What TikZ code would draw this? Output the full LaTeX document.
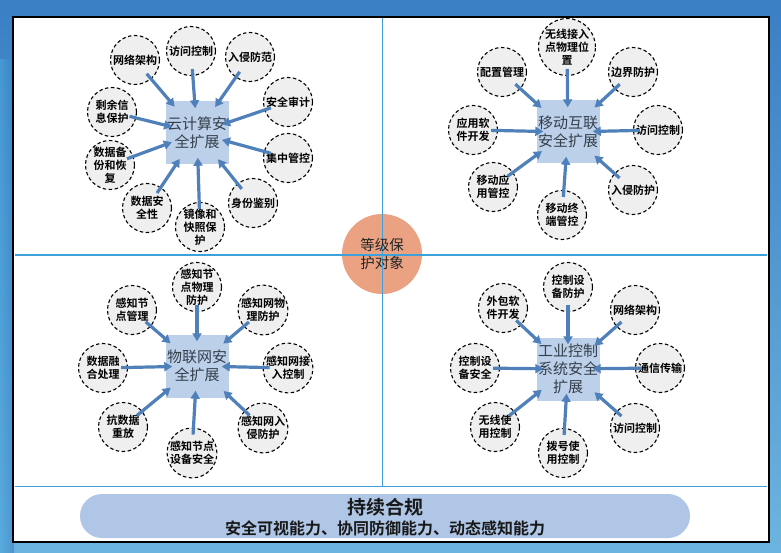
\documentclass[tikz,border=0pt]{standalone}
\usepackage{fontspec}
\setmainfont{Noto Sans CJK SC}[BoldFont={Noto Sans CJK SC Bold}]
\usetikzlibrary{arrows.meta}
\definecolor{bgtop}{HTML}{3A7FC4}
\definecolor{bgbot}{HTML}{6CB4E0}
\definecolor{bgleft}{HTML}{4BA6DC}
\definecolor{cgray}{HTML}{EFEFEF}
\definecolor{hubblue}{HTML}{BCD0EA}
\definecolor{hubtext}{HTML}{353F4A}
\definecolor{arrblue}{HTML}{4F80BA}
\definecolor{gridblue}{HTML}{3DA0D8}
\definecolor{salmon}{HTML}{EBA283}
\definecolor{bannerblue}{HTML}{AFC6E6}
\tikzset{
  sat/.style={circle, draw=black, dash pattern=on 3.5pt off 2.5pt, line width=1.1pt,
    fill=cgray, minimum size=49pt, inner sep=0pt, align=center,
    font=\bfseries\fontsize{11}{13}\selectfont},
  hub/.style={rectangle, fill=hubblue, minimum size=63pt, inner sep=0pt, align=center,
    text=hubtext, font=\fontsize{15}{18}\selectfont},
  arr/.style={draw=arrblue, line width=3.2pt, -{Triangle[length=8pt,width=9pt]},
    shorten <=-7pt, shorten >=-7pt},
  grid/.style={draw=gridblue, line width=1pt}
}
\begin{document}
\begin{tikzpicture}[x=1pt,y=-1pt]
\useasboundingbox (0,0) rectangle (781,553);
% background
\shade[top color=bgtop, bottom color=bgbot] (0,0) rectangle (781,553);
\shade[left color=bgleft, right color=bgtop, opacity=0.6] (0,60) rectangle (14,553);
% panel
\node[draw=black, line width=2.6pt, fill=white, minimum width=756pt, minimum height=525pt,
  inner sep=0pt] (panel) at (391,279.5) {};
% centre circle
\node[circle, fill=salmon, minimum size=80pt, inner sep=0pt] (core) at (382,254) {};
% grid lines
\coordinate (vt) at (382,18);
\coordinate (vb) at (382,486);
\coordinate (hl) at (15,255);
\coordinate (hr) at (767,255);
\coordinate (bl) at (15,486);
\coordinate (br) at (767,486);
\draw[grid] (vt) -- (vb);
\draw[grid] (hl) -- (hr);
\draw[grid] (bl) -- (br);
\node[align=center, font=\fontsize{14.5}{18}\selectfont, text=black!85] (coretext) at (382,254) {等级保\\护对象};

% ===== cloud =====
\node[hub] (cloud) at (197,133) {云计算安\\全扩展};
\node[sat] (c1) at (135,60) {网络架构};
\node[sat] (c2) at (191,51) {访问控制};
\node[sat] (c3) at (250,57) {入侵防范};
\node[sat] (c4) at (288,102) {安全审计};
\node[sat] (c5) at (288,158) {集中管控};
\node[sat] (c6) at (253,203) {身份鉴别};
\node[sat] (c7) at (200,227) {镜像和\\快照保\\护};
\node[sat] (c8) at (147,208) {数据安\\全性};
\node[sat] (c9) at (110,165) {数据备\\份和恢\\复};
\node[sat] (c10) at (112,112) {剩余信\\息保护};
\foreach \i in {1,...,10} \draw[arr] (c\i) -- (cloud);

% ===== mobile =====
\node[hub] (mob) at (568,132) {移动互联\\安全扩展};
\node[sat] (m1) at (567,47) {无线接入\\点物理位\\置};
\node[sat] (m2) at (502,72) {配置管理};
\node[sat] (m3) at (633,72) {边界防护};
\node[sat] (m4) at (473,130) {应用软\\件开发};
\node[sat] (m5) at (658,130) {访问控制};
\node[sat] (m6) at (493,187) {移动应\\用管控};
\node[sat] (m7) at (562,215) {移动终\\端管控};
\node[sat] (m8) at (633,190) {入侵防护};
\foreach \i in {1,...,8} \draw[arr] (m\i) -- (mob);

% ===== IoT =====
\node[hub] (iot) at (197,366) {物联网安\\全扩展};
\node[sat] (i1) at (197,287) {感知节\\点物理\\防护};
\node[sat] (i2) at (132,310) {感知节\\点管理};
\node[sat] (i3) at (263,310) {感知网物\\理防护};
\node[sat] (i4) at (103,368) {数据融\\合处理};
\node[sat] (i5) at (288,368) {感知网接\\入控制};
\node[sat] (i6) at (123,427) {抗数据\\重放};
\node[sat] (i7) at (263,428) {感知网入\\侵防护};
\node[sat] (i8) at (192,453) {感知节点\\设备安全};
\foreach \i in {1,...,8} \draw[arr] (i\i) -- (iot);

% ===== industrial =====
\node[hub] (ind) at (568,369) {工业控制\\系统安全\\扩展};
\node[sat] (d1) at (568,287) {控制设\\备防护};
\node[sat] (d2) at (503,308) {外包软\\件开发};
\node[sat] (d3) at (635,310) {网络架构};
\node[sat] (d4) at (475,368) {控制设\\备安全};
\node[sat] (d5) at (660,368) {通信传输};
\node[sat] (d6) at (495,427) {无线使\\用控制};
\node[sat] (d7) at (635,428) {访问控制};
\node[sat] (d8) at (563,453) {拨号使\\用控制};
\foreach \i in {1,...,8} \draw[arr] (d\i) -- (ind);

% ===== banner =====
\node[fill=bannerblue, rounded corners=22pt, minimum width=610pt, minimum height=44pt,
  inner sep=0pt] (banner) at (385,516) {};
\node[font=\bfseries\fontsize{19}{22}\selectfont, text=black!90] (btitle) at (385,507) {持续合规};
\node[font=\bfseries\fontsize{16}{19}\selectfont, text=black!90] (bsub) at (385,528) {安全可视能力、协同防御能力、动态感知能力};
\end{tikzpicture}
\end{document}
